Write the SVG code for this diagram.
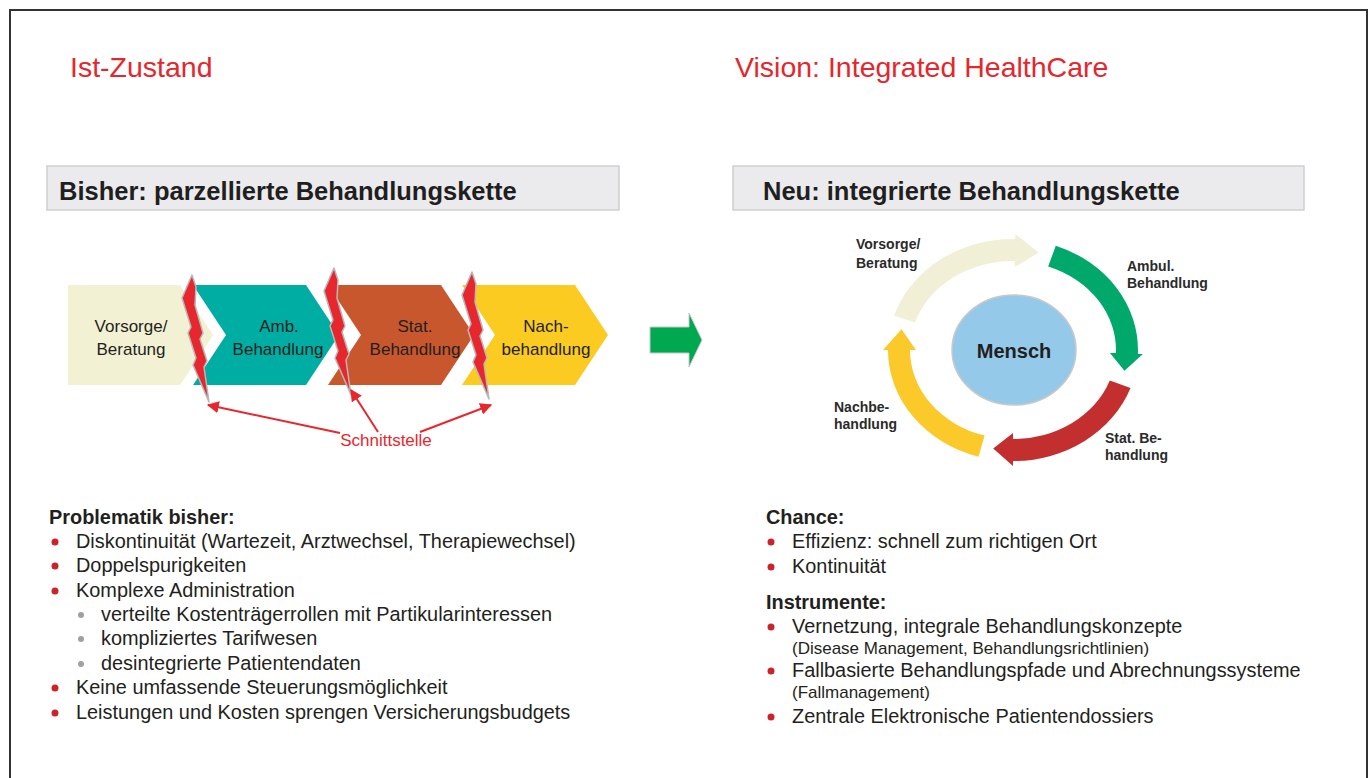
<svg xmlns="http://www.w3.org/2000/svg" width="1369" height="778" viewBox="0 0 1369 778">
  <style>
    .title { font-family: "Liberation Sans", Arial, sans-serif; font-size: 28.5px; fill: #e5262d; }
    .hdr { font-family: "Liberation Sans", Arial, sans-serif; font-size: 25.5px; font-weight: bold; fill: #1f1f1f; }
    .hdrbox { fill: #ebebed; stroke: #cfcfcf; stroke-width: 1.5; }
    .chev { font-family: "Liberation Sans", Arial, sans-serif; font-size: 17px; fill: #231f20; text-anchor: middle; }
    .ring { font-family: "Liberation Sans", Arial, sans-serif; font-size: 14px; font-weight: bold; fill: #2a2a2a; }
    .bolt { fill: #e8262d; stroke: #b8b8b8; stroke-width: 1.5; stroke-linejoin: round; }
    .conn { stroke: #e8262d; stroke-width: 2; fill: none; }
    .lbl { font-family: "Liberation Sans", Arial, sans-serif; font-size: 17px; fill: #e8262d; text-anchor: middle; }
    .head { font-family: "Liberation Sans", Arial, sans-serif; font-size: 19.9px; font-weight: bold; fill: #231f20; }
    .item { font-family: "Liberation Sans", Arial, sans-serif; font-size: 19.9px; fill: #231f20; }
    .small { font-family: "Liberation Sans", Arial, sans-serif; font-size: 17px; fill: #231f20; }
    .dot { fill: #cc2229; }
    .subdot { fill: #a0a0a0; }
  </style>
  <defs>
    <marker id="arrowhead" viewBox="0 0 10 10" refX="9" refY="5" markerWidth="6" markerHeight="6" orient="auto">
      <path d="M0,0 L10,5 L0,10 Z" fill="#e8262d"/>
    </marker>
    <polygon id="boltShape" points="0,0 -10,23 -1,52 -4,58 4,83 1,90 17,127 12,92 15,86 8,64 11,58 3,30 4,12"/>
  </defs>

  <rect width="1369" height="778" fill="#ffffff"/>
  <!-- page frame -->
  <rect x="10" y="10" width="1357" height="790" fill="none" stroke="#333333" stroke-width="2"/>

  <!-- section titles -->
  <text class="title" x="70" y="77">Ist-Zustand</text>
  <text class="title" x="735" y="77">Vision: Integrated HealthCare</text>

  <!-- header bars -->
  <g id="header-left">
    <rect class="hdrbox" x="47" y="166" width="572" height="44"/>
    <text class="hdr" x="59" y="200">Bisher: parzellierte Behandlungskette</text>
  </g>
  <g id="header-right">
    <rect class="hdrbox" x="733" y="166" width="571" height="44"/>
    <text class="hdr" x="763" y="200">Neu: integrierte Behandlungskette</text>
  </g>

  <!-- parcelled treatment chain -->
  <g id="chev-vorsorge">
    <polygon points="68,285 180,285 213,335 180,385 68,385" fill="#f3f1d4"/>
    <text class="chev" x="131" y="332">Vorsorge/</text>
    <text class="chev" x="131" y="355">Beratung</text>
  </g>
  <g id="chev-amb">
    <polygon points="193,285 306,285 339,335 306,385 193,385 226,335" fill="#00ada3"/>
    <text class="chev" x="279" y="332">Amb.</text>
    <text class="chev" x="278" y="355">Behandlung</text>
  </g>
  <g id="chev-stat">
    <polygon points="328,285 441,285 474,335 441,385 328,385 361,335" fill="#c9572d"/>
    <text class="chev" x="415" y="332">Stat.</text>
    <text class="chev" x="415" y="355">Behandlung</text>
  </g>
  <g id="chev-nach">
    <polygon points="462,285 575,285 608,335 575,385 462,385 495,335" fill="#fbcb22"/>
    <text class="chev" x="546" y="332">Nach-</text>
    <text class="chev" x="546" y="355">behandlung</text>
  </g>

  <!-- interface breaks -->
  <g id="bolts">
    <use href="#boltShape" class="bolt" transform="translate(192,275)"/>
    <use href="#boltShape" class="bolt" transform="translate(334,268)"/>
    <use href="#boltShape" class="bolt" transform="translate(472,272)"/>
  </g>

  <g id="connectors">
    <line class="conn" x1="340" y1="433" x2="208" y2="405" marker-end="url(#arrowhead)"/>
    <line class="conn" x1="378" y1="432" x2="351" y2="390" marker-end="url(#arrowhead)"/>
    <line class="conn" x1="420" y1="432" x2="491" y2="405" marker-end="url(#arrowhead)"/>
  </g>
  <g id="label-schnittstelle">
    <text class="lbl" x="386" y="446">Schnittstelle</text>
  </g>

  <!-- transition arrow -->
  <g id="transition-arrow">
    <polygon points="650,327 689,327 689,313 702,340 689,367 689,353 650,353" fill="#00a94f" stroke="#c8c8c8" stroke-width="1"/>
  </g>

  <!-- integrated cycle -->
  <g id="cycle-vorsorge">
    <path d="M894.1,315.7 A125 111 0 0 1 1015.2,239 L1015.3,234 L1038.7,252.6 L1014.7,267 L1014.8,261 A103 89 0 0 0 915,322.5 Z" fill="#f1f0d6"/>
    <text class="ring" x="856" y="249">Vorsorge/</text>
    <text class="ring" x="856" y="268">Beratung</text>
  </g>
  <g id="cycle-ambul">
    <path d="M1055.8,245.7 A125 111 0 0 1 1137.9,353.9 L1142.9,354 L1124.5,370.8 L1109.9,352.9 L1115.9,353.1 A103 89 0 0 0 1048.2,266.4 Z" fill="#00a86b"/>
    <text class="ring" x="1127" y="271">Ambul.</text>
    <text class="ring" x="1127" y="288">Behandlung</text>
  </g>
  <g id="cycle-stat">
    <path d="M1130.5,388 A125 111 0 0 1 1013,461 L1013,466 L993.2,448.5 L1013,433 L1013,439 A103 89 0 0 0 1109.8,380.4 Z" fill="#c32f2f"/>
    <text class="ring" x="1105" y="443">Stat. Be-</text>
    <text class="ring" x="1105" y="460">handlung</text>
  </g>
  <g id="cycle-nach">
    <path d="M978.5,456.7 A125 111 0 0 1 888,350 L883,350 L901.5,329.2 L916,350 L910,350 A103 89 0 0 0 984.6,435.6 Z" fill="#fbc92a"/>
    <text class="ring" x="834" y="412">Nachbe-</text>
    <text class="ring" x="834" y="429">handlung</text>
  </g>
  <g id="mensch">
    <ellipse cx="1014" cy="350" rx="62" ry="55" fill="#95c9ea" stroke="#c8c8c8" stroke-width="1.5"/>
    <text x="1014" y="358" font-family="Liberation Sans, Arial, sans-serif" font-size="20" font-weight="bold" fill="#231f20" text-anchor="middle">Mensch</text>
  </g>

  <!-- problems list -->
  <g id="list-problematik">
    <text class="head" x="49" y="524">Problematik bisher:</text>
    <circle class="dot" cx="55" cy="542" r="3.5"/>
    <text class="item" x="76" y="548">Diskontinuität (Wartezeit, Arztwechsel, Therapiewechsel)</text>
    <circle class="dot" cx="55" cy="566" r="3.5"/>
    <text class="item" x="76" y="572">Doppelspurigkeiten</text>
    <circle class="dot" cx="55" cy="591" r="3.5"/>
    <text class="item" x="76" y="597">Komplexe Administration</text>
    <circle class="subdot" cx="81" cy="615" r="3"/>
    <text class="item" x="101" y="621">verteilte Kostenträgerrollen mit Partikularinteressen</text>
    <circle class="subdot" cx="81" cy="639" r="3"/>
    <text class="item" x="101" y="645">kompliziertes Tarifwesen</text>
    <circle class="subdot" cx="81" cy="664" r="3"/>
    <text class="item" x="101" y="670">desintegrierte  Patientendaten</text>
    <circle class="dot" cx="55" cy="688" r="3.5"/>
    <text class="item" x="76" y="694">Keine umfassende Steuerungsmöglichkeit</text>
    <circle class="dot" cx="55" cy="713" r="3.5"/>
    <text class="item" x="76" y="719">Leistungen und Kosten sprengen Versicherungsbudgets</text>
  </g>

  <!-- opportunities and instruments -->
  <g id="list-chance">
    <text class="head" x="766" y="524">Chance:</text>
    <circle class="dot" cx="771" cy="542" r="3.5"/>
    <text class="item" x="792" y="548">Effizienz: schnell zum richtigen Ort</text>
    <circle class="dot" cx="771" cy="567" r="3.5"/>
    <text class="item" x="792" y="573">Kontinuität</text>
    <text class="head" x="766" y="609">Instrumente:</text>
    <circle class="dot" cx="771" cy="627" r="3.5"/>
    <text class="item" x="792" y="633">Vernetzung, integrale Behandlungskonzepte</text>
    <text class="small" x="792" y="654">(Disease Management, Behandlungsrichtlinien)</text>
    <circle class="dot" cx="771" cy="671" r="3.5"/>
    <text class="item" x="792" y="677">Fallbasierte Behandlungspfade und Abrechnungssysteme</text>
    <text class="small" x="792" y="698">(Fallmanagement)</text>
    <circle class="dot" cx="771" cy="717" r="3.5"/>
    <text class="item" x="792" y="723">Zentrale Elektronische Patientendossiers</text>
  </g>
</svg>
